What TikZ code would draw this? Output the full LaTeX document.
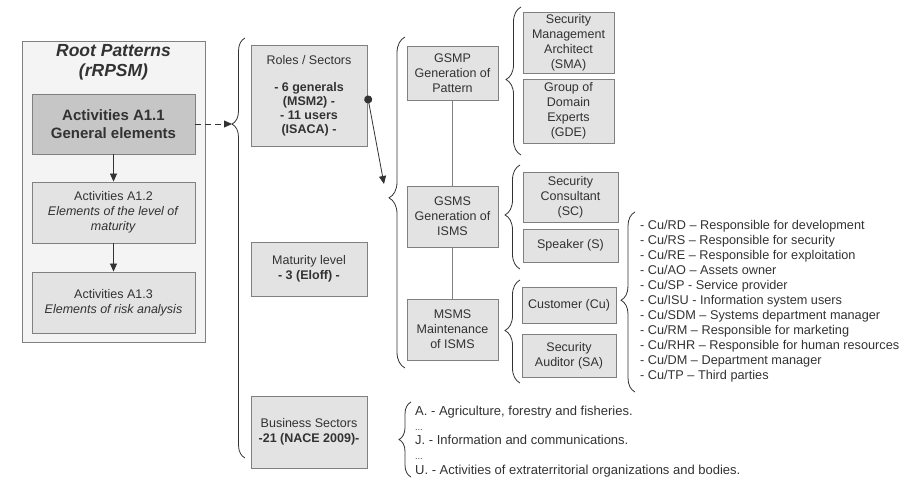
\documentclass[tikz,border=0pt]{standalone}
\usepackage{fontspec}
\setmainfont{Liberation Sans}
\usetikzlibrary{arrows.meta,decorations.pathreplacing}

\definecolor{boxfill}{RGB}{227,227,227}
\definecolor{darkfill}{RGB}{198,198,198}
\definecolor{outerfill}{RGB}{244,244,244}
\definecolor{edgegray}{RGB}{128,128,128}
\definecolor{txt}{RGB}{50,50,50}

\tikzset{
  patbox/.style={draw=edgegray, fill=boxfill, line width=0.9pt, inner sep=1pt, align=center, text=txt, font=\fontsize{12.5}{15}\selectfont},
  genbox/.style={patbox, fill=darkfill, font=\bfseries\fontsize{15}{18}\selectfont},
  rootbox/.style={draw=edgegray, fill=outerfill, line width=0.9pt},
  curly/.style={decorate, decoration={brace, amplitude=#1}, draw=txt, line width=0.8pt},
  link/.style={draw=txt, line width=0.8pt, -{Triangle[length=8pt,width=7pt]}},
  listtext/.style={align=left, text=txt, inner sep=0pt, font=\fontsize{12.7}{15}\selectfont},
}

\begin{document}
\begin{tikzpicture}[x=1pt,y=1pt,yscale=-1,xscale=1]
\useasboundingbox (0,0) rectangle (915,479);

%Shape: Rectangle [root patterns]
\node[rootbox, minimum width=183pt, minimum height=301pt] (root) at (113.5,191.5) {};
% Text Node
\node[text=txt, align=center, font=\bfseries\itshape\fontsize{17.5}{20}\selectfont] (roottitle) at (113.5,62) {Root Patterns\\(rRPSM)};

%Shape: Rectangle [activities]
\node[genbox, minimum width=163pt, minimum height=60pt] (gen) at (113.5,124) {Activities A1.1\\General elements};
\node[patbox, minimum width=163pt, minimum height=61pt] (mat) at (113.5,212.5) {Activities A1.2\\\textit{Elements of the level of}\\\textit{maturity}};
\node[patbox, minimum width=163pt, minimum height=61pt] (risk) at (113.5,302.5) {Activities A1.3\\\textit{Elements of risk analysis}};

%Straight Lines [activities]
\draw[link] (gen) -- (mat);
\draw[link] (mat) -- (risk);

%Shape: Rectangle [second column]
\node[patbox, minimum width=116pt, minimum height=101pt, font=\fontsize{12.5}{13.8}\selectfont] (roles) at (309,95.5) {Roles / Sectors\\[13.8pt]\textbf{- 6 generals}\\\textbf{(MSM2) -}\\\textbf{- 11 users}\\\textbf{(ISACA) -}};
\node[patbox, minimum width=116pt, minimum height=54pt] (level) at (309,269) {Maturity level\\\textbf{- 3 (Eloff) -}};
\node[patbox, minimum width=116pt, minimum height=72pt] (business) at (309,432) {Business Sectors\\\textbf{-21 (NACE 2009)-}};

%Shape: Rectangle [third column]
\node[patbox, minimum width=91pt, minimum height=54pt] (gsmp) at (452.5,73) {GSMP\\Generation of\\Pattern};
\node[patbox, minimum width=91pt, minimum height=61pt] (gsms) at (452.5,216.5) {GSMS\\Generation of\\ISMS};
\node[patbox, minimum width=91pt, minimum height=61pt] (msms) at (452.5,329.5) {MSMS\\Maintenance\\of ISMS};

%Straight Lines [third column]
\draw[draw=edgegray, line width=0.9pt] (gsmp) -- (gsms);
\draw[draw=edgegray, line width=0.9pt] (gsms) -- (msms);

%Shape: Rectangle [roles]
\node[patbox, minimum width=91pt, minimum height=61pt] (sma) at (568.5,42.5) {Security\\Management\\Architect\\(SMA)};
\node[patbox, minimum width=91pt, minimum height=64pt] (gde) at (568.5,111) {Group of\\Domain\\Experts\\(GDE)};
\node[patbox, minimum width=95pt, minimum height=50pt] (sc) at (570.5,197) {Security\\Consultant\\(SC)};
\node[patbox, minimum width=95pt, minimum height=33pt] (speaker) at (570.5,245.5) {Speaker (S)};
\node[patbox, minimum width=94pt, minimum height=36pt] (customer) at (569,305) {Customer (Cu)};
\node[patbox, minimum width=94pt, minimum height=43pt] (sa) at (569,355.5) {Security\\Auditor (SA)};

%Curly Braces
\draw[curly=13pt, decoration={aspect=0.795}] (245,458) -- (245,38);
\draw[curly=16pt, decoration={aspect=0.514}] (405,368) -- (405,37);
\draw[curly=15pt, decoration={aspect=0.51}] (521,155) -- (521,7);
\draw[curly=15pt, decoration={aspect=0.52}] (520,269) -- (520,165);
\draw[curly=15pt, decoration={aspect=0.51}] (520,383) -- (520,280);
\draw[curly=14pt, decoration={aspect=0.51}] (635,392) -- (635,212);
\draw[curly=12pt, decoration={aspect=0.5}] (411,477) -- (411,402);

%Arrows to the braces
\coordinate (b1tip) at (232,124);
\coordinate (rolesend) at (384,184);
\draw[link, dash pattern=on 6pt off 4pt] (gen.east) -- (b1tip);
\draw[link, {Circle[length=8pt]}-{Triangle[length=8pt,width=7pt]}] (roles.east) -- (rolesend);

% Text Node [customer roles]
\node[listtext, anchor=west] (culist) at (640,301) {- Cu/RD -- Responsible for development\\
- Cu/RS -- Responsible for security\\
- Cu/RE -- Responsible for exploitation\\
- Cu/AO -- Assets owner\\
- Cu/SP - Service provider\\
- Cu/ISU - Information system users\\
- Cu/SDM -- Systems department manager\\
- Cu/RM -- Responsible for marketing\\
- Cu/RHR -- Responsible for human resources\\
- Cu/DM -- Department manager\\
- Cu/TP -- Third parties};

% Text Node [business sectors]
\node[listtext, anchor=west, font=\fontsize{13}{14.8}\selectfont] (naclist) at (415,441.5) {A. - Agriculture, forestry and fisheries.\\
{\fontsize{9}{10}\selectfont ...}\\
J. - Information and communications.\\
{\fontsize{9}{10}\selectfont ...}\\
U. - Activities of extraterritorial organizations and bodies.};

\end{tikzpicture}
\end{document}
